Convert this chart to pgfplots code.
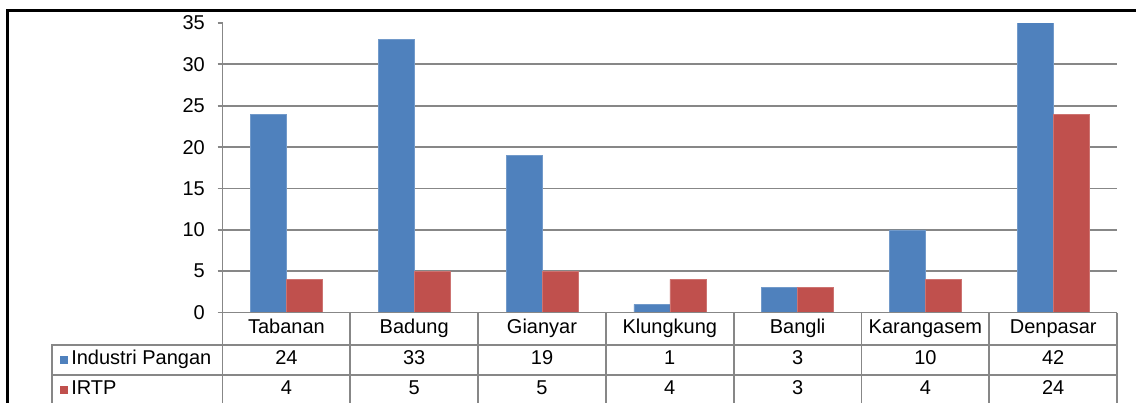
\documentclass[border=0pt]{standalone}
\usepackage{fontspec}
\setmainfont{Liberation Sans}
\usepackage{pgfplots}
\pgfplotsset{compat=1.18}
\definecolor{exblue}{HTML}{4F81BD}
\definecolor{exred}{HTML}{C0504D}
\definecolor{exgrid}{HTML}{878787}
\begin{document}
\begin{tikzpicture}
\useasboundingbox (0,0) rectangle (852pt,-302.25pt);
\begin{axis}[
  at={(166.9pt,-234.4pt)}, anchor=south west,
  scale only axis, width=671pt, height=217.1pt,
  ybar=0pt, bar width=27pt,
  xmin=-0.5, xmax=6.5, ymin=0, ymax=35,
  xtick=\empty,
  ytick={0,5,...,30}, extra y ticks={35},
  extra y tick style={grid=none},
  ytick pos=left,
  ymajorgrids, grid style={exgrid, line width=1.4pt},
  axis line style={draw=none},
  tick align=outside, major tick length=3.75pt,
  ytick style={exgrid, line width=1.4pt},
  tick label style={font=\fontsize{15}{18}\selectfont},
  yticklabel style={xshift=-6pt},
  /pgf/number format/assume math mode=true,
]
\addplot[fill=exblue, draw=exblue!80!white] coordinates {(0,24) (1,33) (2,19) (3,1) (4,3) (5,10) (6,42)};
\addplot[fill=exred, draw=exred!80!white] coordinates {(0,4) (1,5) (2,5) (3,4) (4,3) (5,4) (6,24)};
\end{axis}
\begin{scope}[x=0.75pt, y=-0.75pt, every node/.style={font=\fontsize{15}{18}\selectfont, inner sep=0pt}]
  % data table
  \draw[exgrid, line width=1.4pt] (222.5,23) -- (222.5,410);
  \draw[exgrid, line width=1.4pt] (222.5,312.5) -- (1117,312.5);
  \foreach \k in {1,...,7} \draw[exgrid, line width=1.4pt] ({222.5+127.8*\k},312.5) -- ({222.5+127.8*\k},410);
  \draw[exgrid, line width=1.4pt] (52,345) -- (1117,345);
  \draw[exgrid, line width=1.4pt] (52,375) -- (1117,375);
  \draw[exgrid, line width=1.4pt] (52,344.3) -- (52,410);
  \foreach \c [count=\i from 0] in {Tabanan,Badung,Gianyar,Klungkung,Bangli,Karangasem,Denpasar}
    \node at ({222.5+127.8*(\i+0.5)},329) {\strut\c};
  \foreach \v [count=\i from 0] in {24,33,19,1,3,10,42}
    \node at ({222.5+127.8*(\i+0.5)},360) {\strut\v};
  \foreach \v [count=\i from 0] in {4,5,5,4,3,4,24}
    \node at ({222.5+127.8*(\i+0.5)},390) {\strut\v};
  \fill[exblue] (60,356) rectangle (68,364);
  \node[anchor=west] at (71,360) {\strut Industri Pangan};
  \fill[exred] (60,386) rectangle (68,394);
  \node[anchor=west] at (71,390) {\strut IRTP};
  % chart frame
  \draw[black, line width=2.25pt] (7.5,410) -- (7.5,10.5) -- (1145,10.5);
\end{scope}
\end{tikzpicture}
\end{document}
